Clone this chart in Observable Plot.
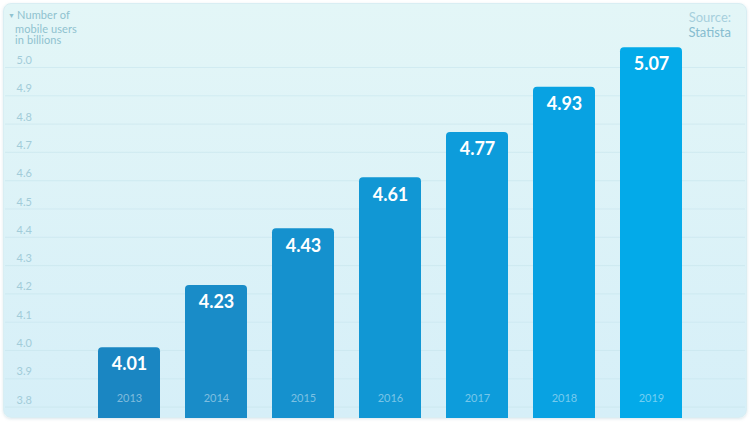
<!DOCTYPE html>
<html>
<head>
<meta charset="utf-8">
<script src="https://cdn.jsdelivr.net/npm/d3@7"></script>
<script src="https://cdn.jsdelivr.net/npm/@observablehq/plot@0.6"></script>
<style>
  html, body { margin: 0; padding: 0; background: #ffffff; }
  #wrap { position: relative; width: 750px; height: 422px; font-family: Lato, "Open Sans", sans-serif; }
  #panel { position: absolute; left: 3px; top: 3px; width: 742px; height: 413px; border-radius: 8px;
    background: linear-gradient(180deg, #e3f6f7 0%, #d6eff8 100%);
    border: 1px solid #d9eef3; box-shadow: 0 1px 3px rgba(120,160,180,0.25); }
  #chart { position: absolute; left: 0; top: 0; }
  #title { position: absolute; left: 8px; top: 9px; font-size: 11px; line-height: 11.5px; color: #8fc2cf; letter-spacing: 0.1px; }
  #title .tri { font-size: 7px; position: relative; top: -1px; margin-right: 2px; }
  #source { position: absolute; right: 19px; top: 10px; text-align: right; font-size: 13px; line-height: 15px; color: #a7d0dd; }
  #source .name { color: #86bccf; }
</style>
</head>
<body>
<div id="wrap">
  <div id="panel"></div>
  <div id="chart"></div>
  <div id="title"><span class="tri">▼</span>Number of<br><span style="padding-left:7px">mobile users</span><br><span style="padding-left:7px">in billions</span></div>
  <div id="source">Source:<br><span class="name">Statista</span></div>
</div>
<script>
const years = ["2013", "2014", "2015", "2016", "2017", "2018", "2019"];
const users = [4.01, 4.23, 4.43, 4.61, 4.77, 4.93, 5.07];
const barColors = ["#1a86c2", "#198cc8", "#1591ce", "#1197d4", "#0d9cdb", "#08a2e2", "#03aae9"];
const yTicks = [3.8, 3.9, 4.0, 4.1, 4.2, 4.3, 4.4, 4.5, 4.6, 4.7, 4.8, 4.9, 5.0];

const data = years.map((y, i) => ({year: y, value: users[i], color: barColors[i]}));
const yMin = 3.7597, yMax = 5.2261;

const chart = Plot.plot({
  width: 750,
  height: 422,
  marginTop: 3,
  marginBottom: 4,
  marginLeft: 97,
  marginRight: 68,
  style: {background: "transparent", fontFamily: "Lato, 'Open Sans', sans-serif"},
  x: {type: "band", domain: years, paddingInner: 0.29, paddingOuter: 0, axis: null},
  y: {domain: [yMin, yMax], axis: null},
  marks: [
    Plot.ruleY(yTicks, {y: d => d, stroke: "#c6e4ec", strokeOpacity: 0.6, insetLeft: -92, insetRight: -63}),
    Plot.text(yTicks, {y: d => d, text: d => d.toFixed(1), frameAnchor: "left", dx: -81, dy: -7, textAnchor: "start", fill: "#a2ccd9", fontSize: 11}),
    Plot.barY(data, {x: "year", y1: yMin - 0.05, y2: "value", fill: "color", rx: 4, clip: true}),
    Plot.text(data, {x: "year", y: "value", text: d => d.value.toFixed(2), dy: 17, fill: "white", fontSize: 18, fontWeight: "bold"}),
    Plot.text(data, {x: "year", text: "year", frameAnchor: "bottom", dy: -17, fill: "white", fillOpacity: 0.45, fontSize: 11})
  ]
});
document.getElementById("chart").appendChild(chart);
</script>
</body>
</html>
